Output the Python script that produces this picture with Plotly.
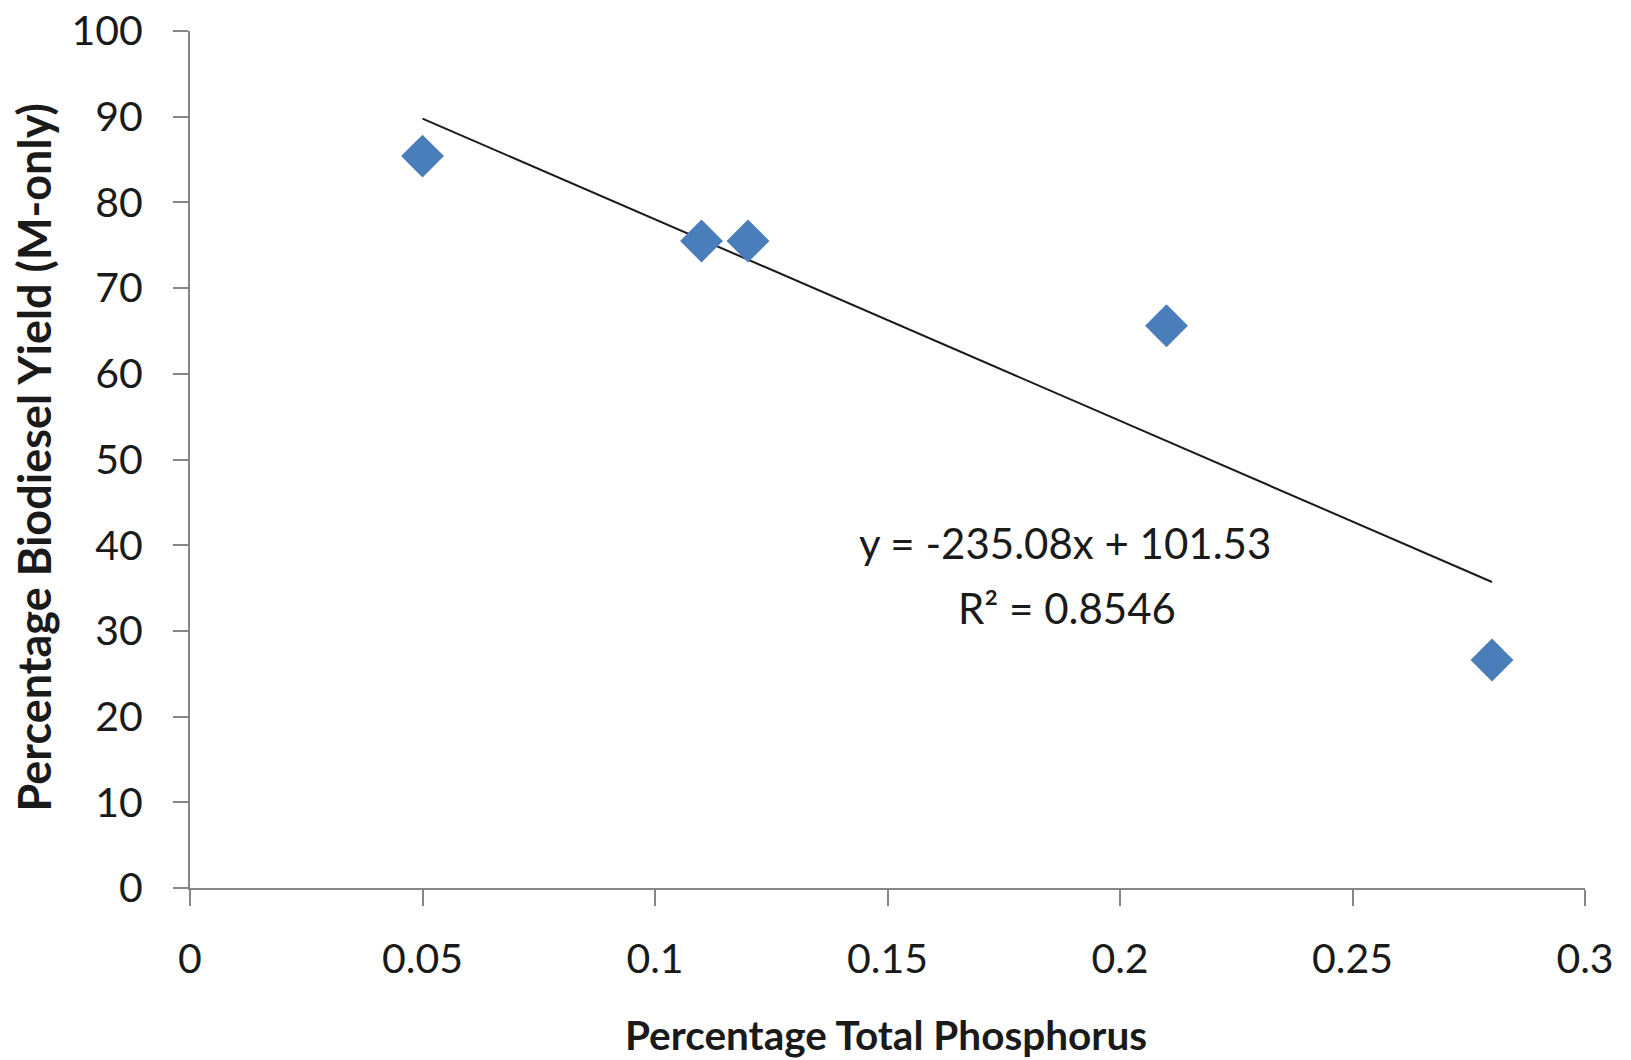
import plotly.graph_objects as go

# Biodiesel yield versus total phosphorus content
phosphorus = [0.05, 0.11, 0.12, 0.21, 0.28]
biodiesel_yield = [85.4, 75.5, 75.5, 65.6, 26.6]

# Linear trendline coefficients
slope = -235.08
intercept = 101.53
r_squared = 0.8546

x_ticks = [0, 0.05, 0.1, 0.15, 0.2, 0.25, 0.3]
x_tick_labels = ["0", "0.05", "0.1", "0.15", "0.2", "0.25", "0.3"]
y_ticks = [0, 10, 20, 30, 40, 50, 60, 70, 80, 90, 100]

FONT = "Lato, 'Open Sans', sans-serif"
AXIS_GRAY = "#868686"
TEXT = "#1a1a1a"

trend_x = [min(phosphorus), max(phosphorus)]
trend_y = [slope * v + intercept for v in trend_x]

fig = go.Figure()

fig.add_trace(go.Scatter(
    x=trend_x, y=trend_y, mode="lines",
    line=dict(color=TEXT, width=2),
    hoverinfo="skip", showlegend=False,
))

fig.add_trace(go.Scatter(
    x=phosphorus, y=biodiesel_yield, mode="markers",
    marker=dict(symbol="diamond", size=33, color="#4A7EBB", line=dict(width=0)),
    showlegend=False,
))

fig.update_layout(
    width=1631, height=1060,
    margin=dict(l=190, r=46, t=31, b=172),
    paper_bgcolor="white", plot_bgcolor="white",
    font=dict(family=FONT, color=TEXT),
    xaxis=dict(
        range=[0, 0.3], tickvals=x_ticks, ticktext=x_tick_labels,
        showgrid=False, zeroline=False, automargin=False,
        showline=True, linecolor=AXIS_GRAY, linewidth=2,
        ticks="outside", ticklen=16, tickwidth=2, tickcolor=AXIS_GRAY,
        tickfont=dict(size=41, family=FONT, color=TEXT),
        ticklabelstandoff=18,
    ),
    yaxis=dict(
        range=[0, 100], tickvals=y_ticks,
        showgrid=False, zeroline=False, automargin=False,
        showline=True, linecolor=AXIS_GRAY, linewidth=2,
        ticks="outside", ticklen=15, tickwidth=2, tickcolor=AXIS_GRAY,
        tickfont=dict(size=41, family=FONT, color=TEXT),
        ticklabelstandoff=22,
    ),
)

# Axis titles
fig.add_annotation(
    text="<b>Percentage Total Phosphorus</b>",
    xref="x", yref="paper", x=0.1496, y=-0.1715,
    xanchor="center", yanchor="middle", showarrow=False,
    font=dict(size=40.5, family=FONT, color=TEXT),
)
fig.add_annotation(
    text="<b>Percentage Biodiesel Yield (M-only)</b>",
    xref="paper", yref="paper", x=-0.112, y=0.502,
    xanchor="center", yanchor="middle", showarrow=False, textangle=-90,
    font=dict(size=45, family=FONT, color=TEXT),
)

# Trendline equation and fit quality
fig.add_annotation(
    text=f"y = {slope:.2f}x + {intercept:.2f}",
    xref="x", yref="y", x=0.1882, y=40.3,
    xanchor="center", yanchor="middle", showarrow=False,
    font=dict(size=42, family=FONT, color=TEXT),
)
fig.add_annotation(
    text=f"R² = {r_squared:.4f}",
    xref="x", yref="y", x=0.1886, y=32.7,
    xanchor="center", yanchor="middle", showarrow=False,
    font=dict(size=42, family=FONT, color=TEXT),
)

fig.write_html("out.html")
